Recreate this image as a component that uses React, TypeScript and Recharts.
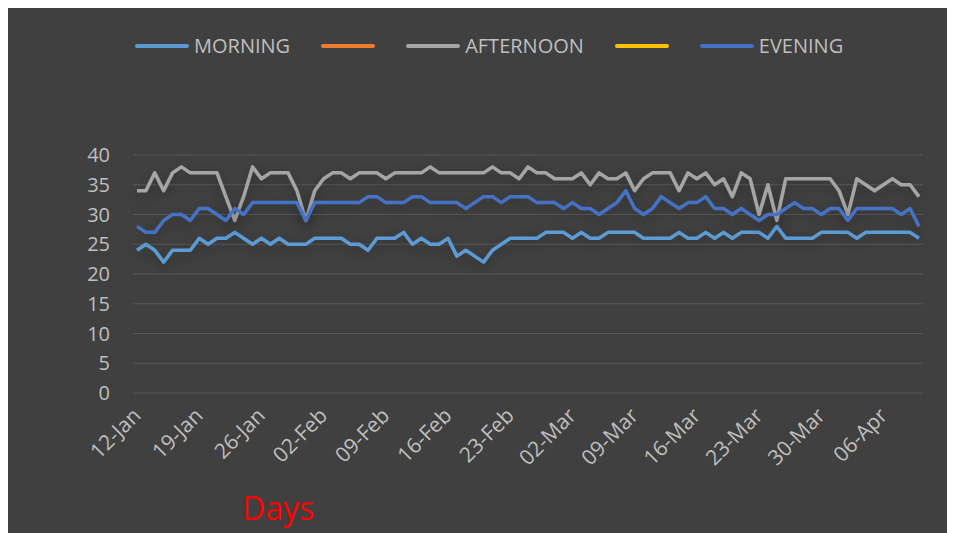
import { LineChart, Line, XAxis, YAxis, CartesianGrid } from "recharts";

const DAYS = [
  "12-Jan", "13-Jan", "14-Jan", "15-Jan", "16-Jan", "17-Jan", "18-Jan", "19-Jan", "20-Jan", "21-Jan",
  "22-Jan", "23-Jan", "24-Jan", "25-Jan", "26-Jan", "27-Jan", "28-Jan", "29-Jan", "30-Jan", "31-Jan",
  "01-Feb", "02-Feb", "03-Feb", "04-Feb", "05-Feb", "06-Feb", "07-Feb", "08-Feb", "09-Feb", "10-Feb",
  "11-Feb", "12-Feb", "13-Feb", "14-Feb", "15-Feb", "16-Feb", "17-Feb", "18-Feb", "19-Feb", "20-Feb",
  "21-Feb", "22-Feb", "23-Feb", "24-Feb", "25-Feb", "26-Feb", "27-Feb", "28-Feb",
  "01-Mar", "02-Mar", "03-Mar", "04-Mar", "05-Mar", "06-Mar", "07-Mar", "08-Mar", "09-Mar", "10-Mar",
  "11-Mar", "12-Mar", "13-Mar", "14-Mar", "15-Mar", "16-Mar", "17-Mar", "18-Mar", "19-Mar", "20-Mar",
  "21-Mar", "22-Mar", "23-Mar", "24-Mar", "25-Mar", "26-Mar", "27-Mar", "28-Mar", "29-Mar", "30-Mar",
  "31-Mar", "01-Apr", "02-Apr", "03-Apr", "04-Apr", "05-Apr", "06-Apr", "07-Apr", "08-Apr", "09-Apr",
  "10-Apr",
];

const MORNING = [
  24, 25, 24, 22, 24, 24, 24, 26, 25, 26, 26, 27, 26, 25, 26, 25, 26, 25, 25, 25, 26,
  26, 26, 26, 25, 25, 24, 26, 26, 26, 27, 25, 26, 25, 25, 26, 23, 24, 23, 22, 24, 25,
  26, 26, 26, 26, 27, 27, 27, 26, 27, 26, 26, 27, 27, 27, 27, 26, 26, 26, 26, 27,
  26, 26, 27, 26, 27, 26, 27, 27, 27, 26, 28, 26, 26, 26, 26, 27, 27, 27, 27, 26,
  27, 27, 27, 27, 27, 27, 26,
];

const AFTERNOON = [
  34, 34, 37, 34, 37, 38, 37, 37, 37, 37, 33, 29, 33, 38, 36, 37, 37, 37, 34, 29, 34,
  36, 37, 37, 36, 37, 37, 37, 36, 37, 37, 37, 37, 38, 37, 37, 37, 37, 37, 37, 38, 37,
  37, 36, 38, 37, 37, 36, 36, 36, 37, 35, 37, 36, 36, 37, 34, 36, 37, 37, 37, 34,
  37, 36, 37, 35, 36, 33, 37, 36, 30, 35, 29, 36, 36, 36, 36, 36, 36, 34, 30, 36,
  35, 34, 35, 36, 35, 35, 33,
];

const EVENING = [
  28, 27, 27, 29, 30, 30, 29, 31, 31, 30, 29, 31, 30, 32, 32, 32, 32, 32, 32, 29, 32,
  32, 32, 32, 32, 32, 33, 33, 32, 32, 32, 33, 33, 32, 32, 32, 32, 31, 32, 33, 33, 32,
  33, 33, 33, 32, 32, 32, 31, 32, 31, 31, 30, 31, 32, 34, 31, 30, 31, 33, 32, 31,
  32, 32, 33, 31, 31, 30, 31, 30, 29, 30, 30, 31, 32, 31, 31, 30, 31, 31, 29, 31,
  31, 31, 31, 31, 30, 31, 28,
];

const Y_TICKS = [0, 5, 10, 15, 20, 25, 30, 35, 40];

// series 2 and 4 have no data and no name, but still show in the legend
const SERIES = [
  { key: "morning", name: "MORNING", color: "#5B9BD5" },
  { key: "series2", name: "", color: "#ED7D31" },
  { key: "afternoon", name: "AFTERNOON", color: "#A5A5A5" },
  { key: "series4", name: "", color: "#FFC000" },
  { key: "evening", name: "EVENING", color: "#4472C4" },
];

const data = DAYS.map((day, i) => ({
  day,
  morning: MORNING[i],
  afternoon: AFTERNOON[i],
  evening: EVENING[i],
}));

const TEXT = "#BFBFBF";
const FONT = "'Open Sans', sans-serif";

function DayTick({ x, y, payload }: any) {
  const ax = x + 5;
  const ay = y + 24;
  return (
    <text
      x={ax}
      y={ay}
      transform={`rotate(-45 ${ax} ${ay})`}
      textAnchor="end"
      fill={TEXT}
      fontSize={21}
      fontFamily={FONT}
    >
      {payload.value}
    </text>
  );
}

export default function App() {
  return (
    <div style={{ position: "relative", width: 947, height: 525, background: "#404040", fontFamily: FONT }}>
      <div style={{ position: "absolute", left: 127, top: 24, display: "flex", alignItems: "center", gap: 31 }}>
        {SERIES.map(s => (
          <div key={s.key} style={{ display: "flex", alignItems: "center" }}>
            <div style={{ width: 54, height: 4, borderRadius: 2, background: s.color }} />
            {s.name && <span style={{ marginLeft: 5, color: TEXT, fontSize: 20, lineHeight: "28px" }}>{s.name}</span>}
          </div>
        ))}
      </div>

      <LineChart width={947} height={525} data={data} margin={{ top: 147, right: 32, bottom: 80, left: 65 }}>
        <defs>
          <filter id="lineShadow" x="-5%" y="-50%" width="110%" height="200%">
            <feDropShadow dx="0" dy="4" stdDeviation="7" floodColor="#000000" floodOpacity="0.35" />
          </filter>
        </defs>
        <CartesianGrid vertical={false} stroke="#595959" strokeWidth={1} />
        <XAxis
          dataKey="day"
          interval={6}
          padding={{ left: 4, right: 4 }}
          axisLine={false}
          tickLine={false}
          tickSize={0}
          tickMargin={0}
          height={60}
          tick={<DayTick />}
        />
        <YAxis
          domain={[0, 40]}
          ticks={Y_TICKS}
          width={60}
          axisLine={false}
          tickLine={false}
          tickSize={0}
          tickMargin={23}
          tick={{ fill: TEXT, fontSize: 20, fontFamily: FONT }}
        />
        {SERIES.map(s => (
          <Line
            key={s.key}
            dataKey={s.key}
            name={s.name}
            stroke={s.color}
            strokeWidth={3.5}
            strokeLinejoin="round"
            filter="url(#lineShadow)"
            dot={false}
            type="linear"
            isAnimationActive={false}
          />
        ))}
      </LineChart>

      <div style={{ position: "absolute", left: 234, top: 484, color: "#FF0000", fontSize: 32, lineHeight: "32px" }}>
        Days
      </div>
    </div>
  );
}
